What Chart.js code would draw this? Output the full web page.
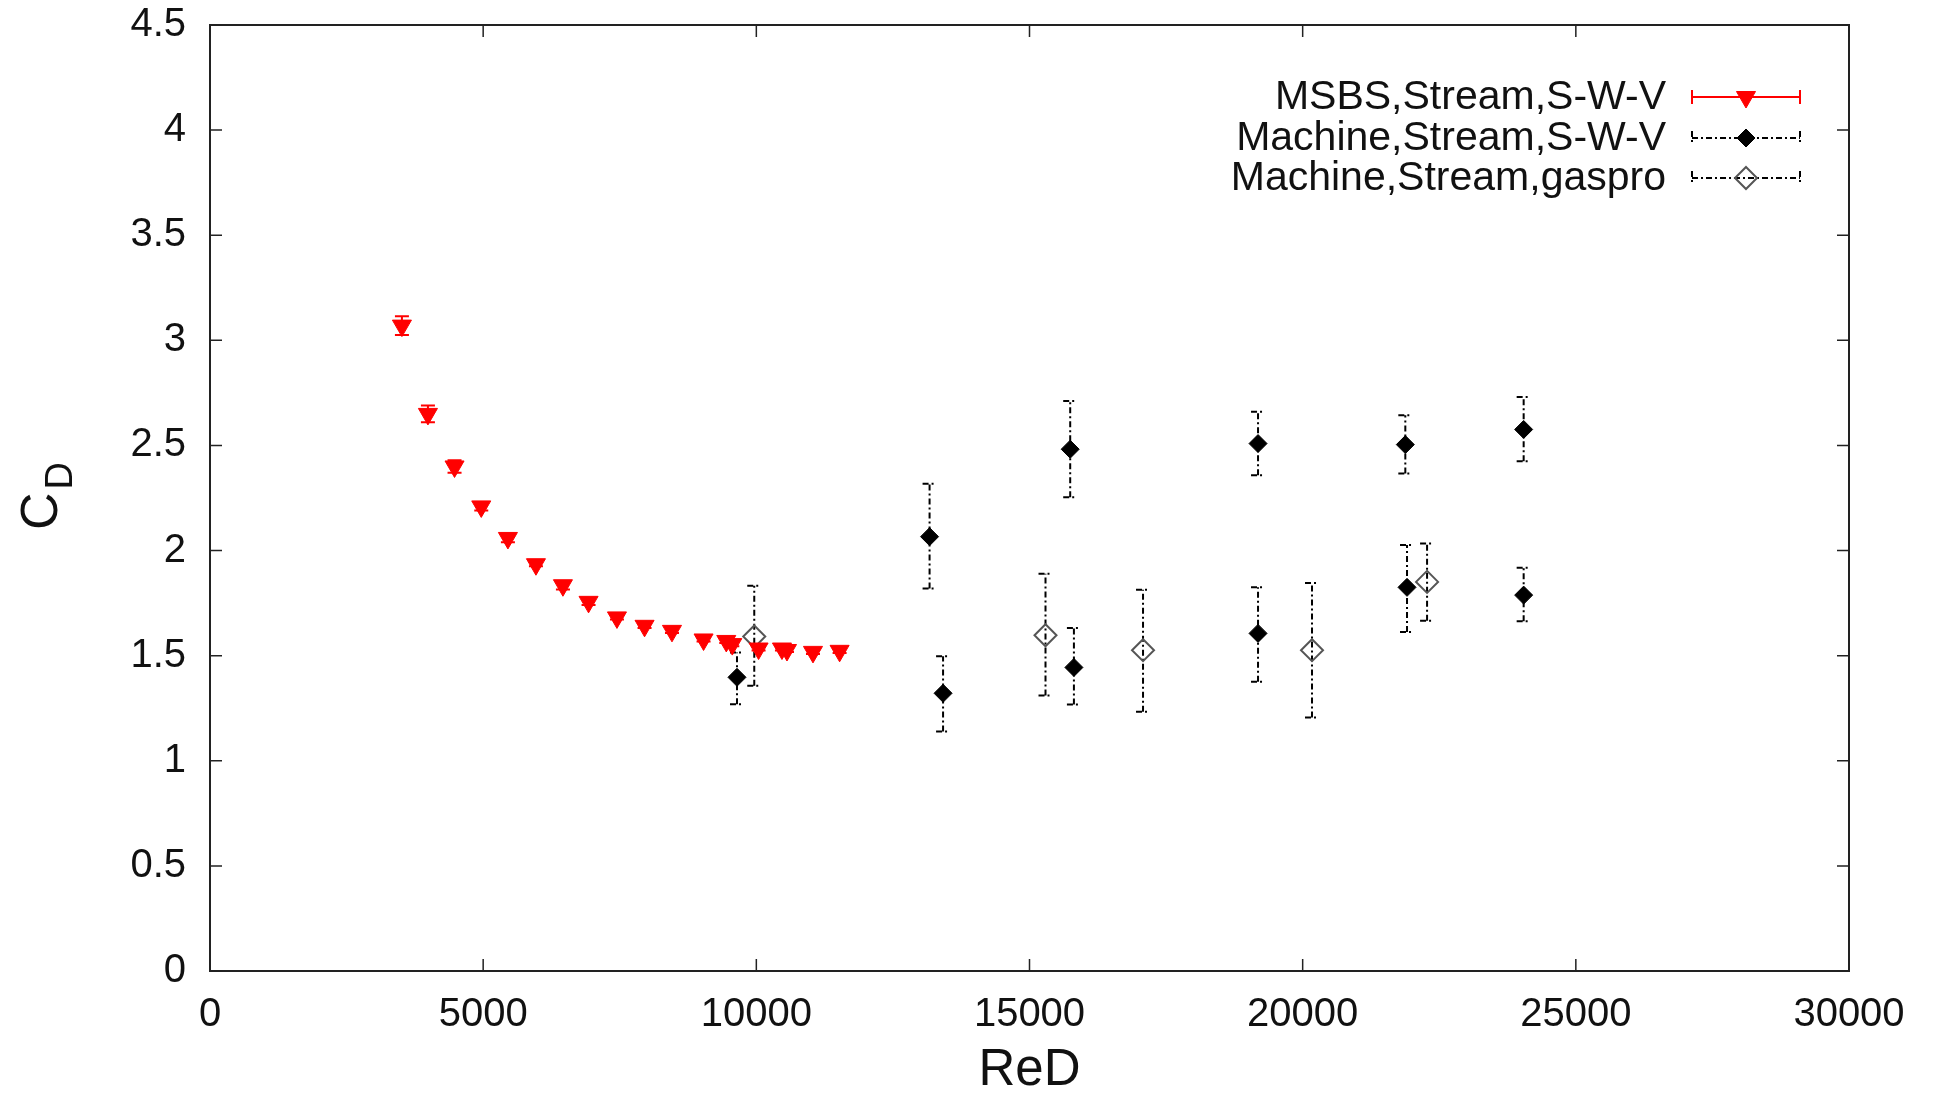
<!DOCTYPE html>
<html>
<head>
<meta charset="utf-8">
<script src="https://cdn.jsdelivr.net/npm/chart.js@4.4.1/dist/chart.umd.min.js"></script>
<style>
html, body { margin: 0; padding: 0; background: #fff; }
</style>
</head>
<body>
<canvas id="cd" width="1935" height="1094"></canvas>
<script>
// MSBS, Stream, S-W-V
const msbsRe = [3513, 3989, 4476, 4965, 5453, 5966, 6460, 6929, 7449, 7954, 8456, 9034, 9450, 9560, 10041, 10469, 10561, 11037, 11524];
const msbsCd = [3.07, 2.65, 2.40, 2.21, 2.06, 1.935, 1.835, 1.756, 1.682, 1.642, 1.618, 1.577, 1.57, 1.555, 1.534, 1.534, 1.527, 1.518, 1.523];
const msbsErr = [0.045, 0.04, 0.03, 0.02, 0.02, 0.01, 0.02, 0.015, 0.01, 0.01, 0.01, 0.01, 0.01, 0.01, 0.01, 0.01, 0.01, 0.01, 0.01];

// Machine, Stream, S-W-V
const swvRe = [9646, 13171, 13418, 15745, 15813, 19183, 19183, 21879, 21910, 24045, 24045];
const swvCd = [1.397, 2.066, 1.321, 2.482, 1.444, 2.509, 1.606, 2.504, 1.825, 2.576, 1.788];
const swvLow = [1.269, 1.820, 1.139, 2.253, 1.268, 2.358, 1.376, 2.367, 1.613, 2.425, 1.664];
const swvHigh = [1.515, 2.318, 1.497, 2.711, 1.632, 2.660, 1.825, 2.644, 2.026, 2.731, 1.918];

// Machine, Stream, gaspro
const gasRe = [9962, 15293, 17078, 20171, 22277];
const gasCd = [1.591, 1.597, 1.526, 1.526, 1.851];
const gasLow = [1.357, 1.310, 1.233, 1.206, 1.666];
const gasHigh = [1.832, 1.890, 1.814, 1.846, 2.034];

const xTicks = [0, 5000, 10000, 15000, 20000, 25000, 30000];
const yTicks = [0, 0.5, 1, 1.5, 2, 2.5, 3, 3.5, 4, 4.5];

const FONT = 'Liberation Sans, Arial, sans-serif';
const DASHDOT = [6, 3, 2, 3];

function pts(xs, ys) {
    return xs.map((x, i) => ({ x: x, y: ys[i] }));
}

// error bars, frame, inward ticks, y title and legend
const extras = {
    id: 'extras',
    beforeDatasetsDraw(chart) {
        const ctx = chart.ctx;
        const xs = chart.scales.x, ys = chart.scales.y;
        chart.data.datasets.forEach(ds => {
            const cap = 7;
            ctx.save();
            ctx.strokeStyle = ds.errColor;
            ctx.lineWidth = ds.errWidth;
            ctx.setLineDash(ds.errDash);
            ds.data.forEach((p, i) => {
                const px = xs.getPixelForValue(p.x);
                const lo = ys.getPixelForValue(ds.errLow[i]);
                const hi = ys.getPixelForValue(ds.errHigh[i]);
                ctx.beginPath();
                ctx.moveTo(px, lo); ctx.lineTo(px, hi);
                ctx.moveTo(px - cap, lo); ctx.lineTo(px + cap, lo);
                ctx.moveTo(px - cap, hi); ctx.lineTo(px + cap, hi);
                ctx.stroke();
            });
            ctx.restore();
        });
    },
    afterDraw(chart) {
        const ctx = chart.ctx;
        const a = chart.chartArea;
        const xs = chart.scales.x, ys = chart.scales.y;
        ctx.save();
        ctx.strokeStyle = '#222';
        ctx.lineWidth = 2;
        ctx.strokeRect(a.left, a.top, a.right - a.left, a.bottom - a.top);
        ctx.lineWidth = 1.5;
        const tl = 12;
        ctx.beginPath();
        xTicks.forEach(v => {
            const px = xs.getPixelForValue(v);
            ctx.moveTo(px, a.bottom); ctx.lineTo(px, a.bottom - tl);
            ctx.moveTo(px, a.top); ctx.lineTo(px, a.top + tl);
        });
        yTicks.forEach(v => {
            const py = ys.getPixelForValue(v);
            ctx.moveTo(a.left, py); ctx.lineTo(a.left + tl, py);
            ctx.moveTo(a.right, py); ctx.lineTo(a.right - tl, py);
        });
        ctx.stroke();

        // y axis title: C with subscript D, rotated
        ctx.translate(57, 530);
        ctx.rotate(-Math.PI / 2);
        ctx.fillStyle = '#111';
        ctx.textBaseline = 'alphabetic';
        ctx.textAlign = 'left';
        ctx.font = '52px ' + FONT;
        ctx.fillText('C', 0, 0);
        const cw = ctx.measureText('C').width;
        ctx.font = '38px ' + FONT;
        ctx.fillText('D', cw + 3, 15);
        ctx.restore();

        // legend
        ctx.save();
        const rows = [97, 138, 178];
        const x0 = 1692, x1 = 1800, xm = 1746;
        chart.data.datasets.forEach((ds, i) => {
            const y = rows[i];
            ctx.font = '41px ' + FONT;
            ctx.fillStyle = '#111';
            ctx.textAlign = 'right';
            ctx.textBaseline = 'middle';
            ctx.fillText(ds.label, 1666, y + 1);
            ctx.strokeStyle = ds.errColor;
            ctx.lineWidth = ds.errWidth;
            ctx.setLineDash(ds.errDash);
            ctx.beginPath();
            ctx.moveTo(x0, y); ctx.lineTo(x1, y);
            ctx.moveTo(x0, y - 7); ctx.lineTo(x0, y + 7);
            ctx.moveTo(x1, y - 7); ctx.lineTo(x1, y + 7);
            ctx.stroke();
            ctx.setLineDash([]);
            ctx.fillStyle = ds.legendFill;
            ctx.strokeStyle = ds.borderColor;
            ctx.lineWidth = ds.borderWidth;
            ctx.beginPath();
            const r = ds.pointRadius;
            if (ds.pointStyle === 'triangle') {
                ctx.moveTo(xm, y + r);
                ctx.lineTo(xm - r * 0.866, y - r * 0.5);
                ctx.lineTo(xm + r * 0.866, y - r * 0.5);
            } else {
                ctx.moveTo(xm, y - r); ctx.lineTo(xm + r, y);
                ctx.lineTo(xm, y + r); ctx.lineTo(xm - r, y);
            }
            ctx.closePath();
            ctx.fill();
            ctx.stroke();
        });
        ctx.restore();
    }
};

new Chart(document.getElementById('cd'), {
    type: 'scatter',
    data: {
        datasets: [
            {
                label: 'MSBS,Stream,S-W-V',
                data: pts(msbsRe, msbsCd),
                errLow: msbsCd.map((v, i) => v - msbsErr[i]),
                errHigh: msbsCd.map((v, i) => v + msbsErr[i]),
                errColor: '#ff0000', errWidth: 2, errDash: [],
                pointStyle: 'triangle', rotation: 180, pointRadius: 11,
                backgroundColor: '#ff0000', borderColor: '#ff0000', borderWidth: 1,
                legendFill: '#ff0000'
            },
            {
                label: 'Machine,Stream,S-W-V',
                data: pts(swvRe, swvCd),
                errLow: swvLow, errHigh: swvHigh,
                errColor: '#000', errWidth: 2, errDash: DASHDOT,
                pointStyle: 'rectRot', pointRadius: 9,
                backgroundColor: '#000', borderColor: '#000', borderWidth: 1,
                legendFill: '#000'
            },
            {
                label: 'Machine,Stream,gaspro',
                data: pts(gasRe, gasCd),
                errLow: gasLow, errHigh: gasHigh,
                errColor: '#000', errWidth: 2, errDash: DASHDOT,
                pointStyle: 'rectRot', pointRadius: 11,
                backgroundColor: 'rgba(255,255,255,0)', borderColor: '#555', borderWidth: 2,
                legendFill: 'rgba(255,255,255,0)'
            }
        ]
    },
    options: {
        responsive: false,
        animation: false,
        events: [],
        layout: { padding: { top: 25, right: 86, left: 0, bottom: 0 } },
        plugins: {
            legend: { display: false },
            tooltip: { enabled: false }
        },
        scales: {
            x: {
                type: 'linear',
                position: 'bottom',
                min: 0, max: 30000,
                afterBuildTicks: s => { s.ticks = xTicks.map(v => ({ value: v })); },
                afterFit: s => { s.height = 123; },
                grid: { display: false },
                border: { display: false },
                ticks: {
                    color: '#111',
                    font: { family: FONT, size: 40 },
                    padding: 12,
                    maxRotation: 0,
                    callback: v => String(v)
                },
                title: {
                    display: true,
                    text: 'ReD',
                    color: '#111',
                    font: { family: FONT, size: 51 },
                    padding: { top: 0, bottom: -8 }
                }
            },
            y: {
                type: 'linear',
                min: 0, max: 4.5,
                afterBuildTicks: s => { s.ticks = yTicks.map(v => ({ value: v })); },
                afterFit: s => { s.width = 210; s.paddingTop = 0; s.paddingBottom = 0; },
                grid: { display: false },
                border: { display: false },
                ticks: {
                    color: '#111',
                    font: { family: FONT, size: 40 },
                    padding: 16,
                    callback: v => String(v)
                }
            }
        }
    },
    plugins: [extras]
});
</script>
</body>
</html>
